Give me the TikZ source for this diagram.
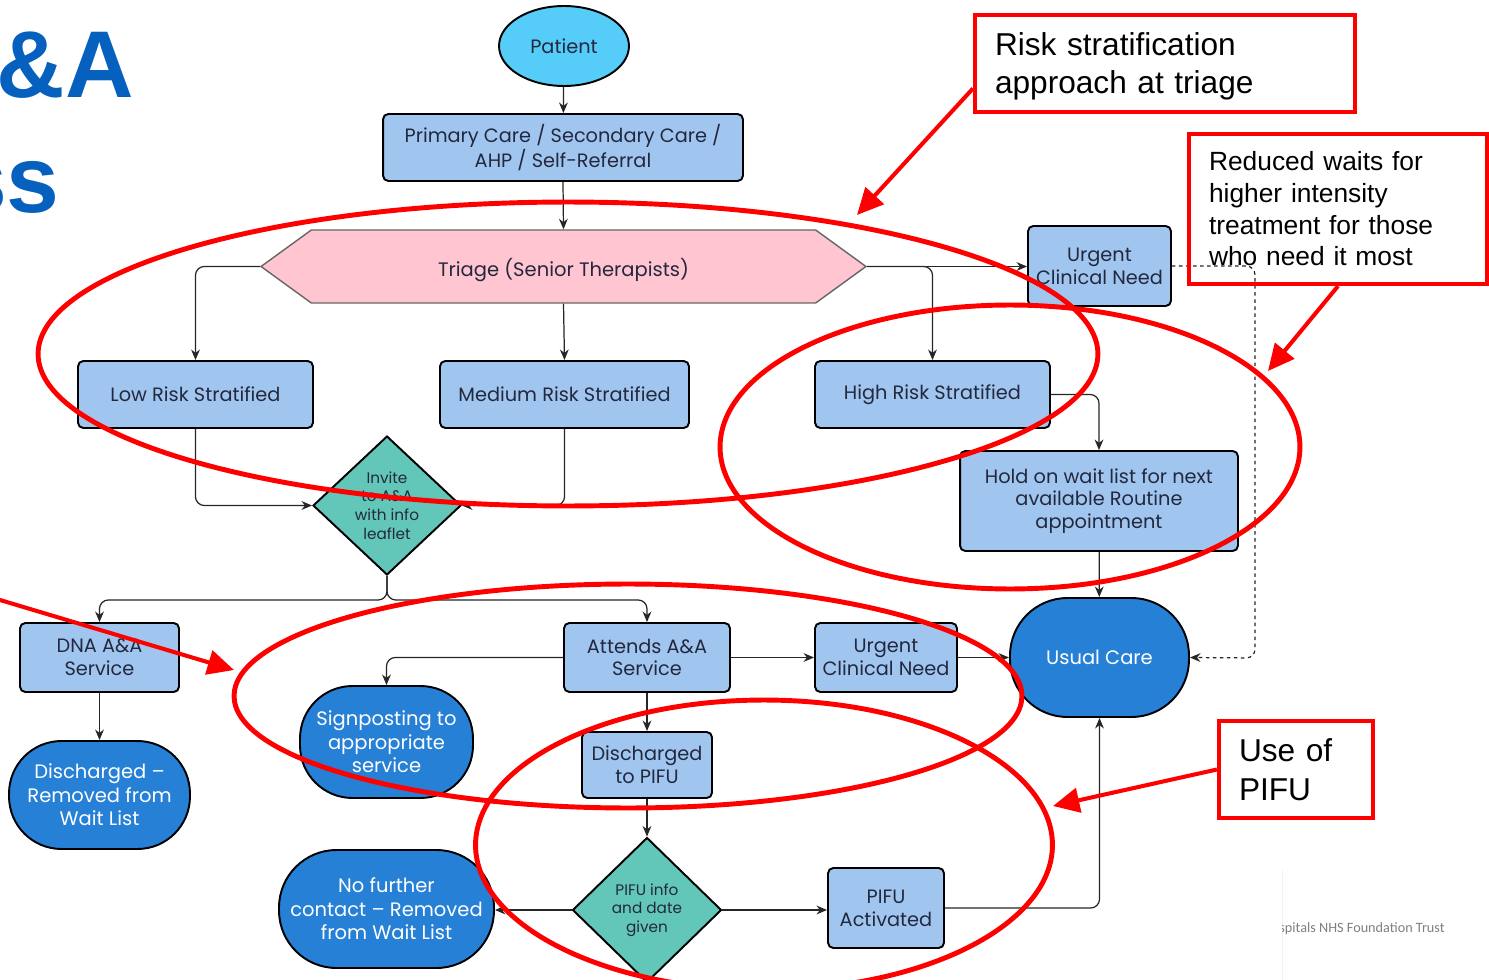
\documentclass[tikz,border=0pt]{standalone}
\usepackage{fontspec}
\setmainfont{Poppins}
\newfontfamily\notefont{Liberation Sans}
\newfontfamily\footfont{Carlito}
\usepackage{tikz}
\usetikzlibrary{arrows.meta,positioning,shapes.geometric,shapes.symbols}
\definecolor{boxblue}{RGB}{160,198,240}
\definecolor{termblue}{RGB}{38,128,214}
\definecolor{tealgreen}{RGB}{98,198,185}
\definecolor{patientcyan}{RGB}{86,204,248}
\definecolor{triagepink}{RGB}{255,197,208}
\definecolor{titleblue}{RGB}{5,96,190}
\definecolor{inktext}{RGB}{35,40,62}
\definecolor{alertred}{RGB}{255,0,0}

\begin{document}
\begin{tikzpicture}[x=0.02cm, y=-0.02cm,
          box/.style={draw=black, line width=1.1pt, rounded corners=3pt,
                      fill=boxblue, text=inktext, align=center, inner sep=2pt,
                      font=\fontsize{11}{13}\selectfont},
          term/.style={draw=black, line width=1.1pt, rounded corners=1.05cm,
                       fill=termblue, text=white, align=center, inner sep=2pt,
                       font=\fontsize{11.1}{13.4}\selectfont},
          decide/.style={diamond, draw=black, line width=1.1pt, fill=tealgreen,
                         text=inktext, align=center, inner sep=0pt,
                         font=\fontsize{8.7}{10.6}\selectfont},
          arr/.style={-{Stealth[length=6pt,width=5pt]}, line width=0.7pt,
                      black!85, rounded corners=5pt},
          dasharr/.style={arr, dash pattern=on 2pt off 2pt},
          note/.style={draw=alertred, line width=2.4pt, text=black,
                       font=\notefont, align=left, inner xsep=0.4cm, inner ysep=0pt},
          ring/.style={draw=alertred, line width=2.8pt},
          redarr/.style={-{Triangle[length=15pt,width=14pt]}, draw=alertred,
                         line width=2.3pt}
        ]
          \path[use as bounding box, fill=white] (0,0) rectangle (1489,980);
          % slide title, cut off at the left edge
          \node[anchor=base east, inner sep=0pt, text=titleblue,
                font=\notefont\bfseries\fontsize{54}{54}\selectfont] (title1) at (134,98) {\&A};
          \node[anchor=base east, inner sep=0pt, text=titleblue,
                font=\notefont\bfseries\fontsize{54}{54}\selectfont] (title2) at (60,213) {ss};
          % footer
          \draw[black!5, line width=0.5pt] (1282,870) -- (1282,980);
          \begin{scope}
            \clip (1282,880) rectangle (1489,980);
            \node[anchor=base west, inner sep=0pt, text=black!50,
                  font=\footfont\fontsize{8.1}{9}\selectfont] (trust) at (1279,932) {spitals NHS Foundation Trust};
          \end{scope}

          \node[ellipse, draw=black, line width=1.1pt, fill=patientcyan, text=inktext,
                minimum width=2.6cm, minimum height=1.6cm, inner sep=0pt,
                font=\fontsize{11}{13}\selectfont] (patient) at (564,46) {Patient};
          \node[box, minimum width=7.2cm, minimum height=1.34cm] (primary) at (563,147.5)
               {Primary Care / Secondary Care /\\AHP / Self-Referral};
          \node[signal, signal to=east and west, signal pointer angle=72,
                draw=black!60, line width=0.8pt, fill=triagepink, text=inktext,
                minimum width=12.1cm, minimum height=1.46cm, inner sep=0pt,
                text height=11.5pt, text depth=0pt,
                font=\fontsize{11.1}{13}\selectfont] (triage) at (563.5,266.5)
               {Triage (Senior Therapists)};
          \node[box, minimum width=2.86cm, minimum height=1.6cm] (urgA) at (1099.5,266) {Urgent\\Clinical Need};
          \node[box, minimum width=4.7cm, minimum height=1.34cm] (low) at (195.5,394.5) {Low Risk Stratified};
          \node[box, minimum width=4.98cm, minimum height=1.34cm] (med) at (564.5,394.5) {Medium Risk Stratified};
          \node[box, minimum width=4.7cm, minimum height=1.34cm] (high) at (932.5,394.5) {High Risk Stratified};
          \node[box, minimum width=5.56cm, minimum height=2cm] (hold) at (1099,501)
               {Hold on wait list for next\\available Routine\\appointment};
          \node[decide, minimum width=2.96cm, minimum height=2.78cm] (invite) at (387,505.5)
               {Invite\\to A\&A\\with info\\leaflet};
          \node[box, minimum width=3.18cm, minimum height=1.38cm] (dna) at (99.5,657.5) {DNA A\&A\\Service};
          \node[box, minimum width=3.32cm, minimum height=1.38cm] (attends) at (647,657.5) {Attends A\&A\\Service};
          \node[box, minimum width=2.84cm, minimum height=1.38cm] (urgB) at (886,657.5) {Urgent\\Clinical Need};
          \node[term, rounded corners=1.15cm, minimum width=3.58cm, minimum height=2.38cm] (usual) at (1099.5,657.5) {Usual Care};
          \node[term, minimum width=3.46cm, minimum height=2.24cm] (sign) at (386.5,742)
               {Signposting to\\appropriate\\service};
          \node[term, minimum width=3.62cm, minimum height=2.16cm] (disch) at (99.5,795)
               {Discharged –\\Removed from\\Wait List};
          \node[box, minimum width=2.6cm, minimum height=1.32cm] (dpifu) at (647,765) {Discharged\\to PIFU};
          \node[decide, minimum width=2.98cm, minimum height=2.9cm] (pifu) at (647,910)
               {PIFU info\\and date\\given};
          \node[box, minimum width=2.32cm, minimum height=1.6cm] (activated) at (886,908) {PIFU\\Activated};
          \node[term, rounded corners=1.15cm, minimum width=4.3cm, minimum height=2.36cm] (nofurther) at (386.5,909)
               {No further\\contact – Removed\\from Wait List};

          \coordinate (split) at (387,600);
          \coordinate (dashc) at (1255,658);

          \draw[arr] (patient) -- (primary);
          \draw[arr] (primary.south) -- (triage.north);
          \draw[arr] (triage.west) -| (low.north);
          \draw[arr] (triage.south) -- (med.north);
          \draw[arr] (triage.east) -- (triage.east -| urgA.west);
          \draw[arr] (triage.east) -| (high.north);
          \draw[arr] (high.east) -| (hold.north);
          \draw[arr] (hold) -- (usual);
          \draw[dasharr] (urgA.east) -| (dashc) -- (usual.east);
          \draw[arr] (low.south) |- (invite.west);
          \draw[arr] (med.south) |- (invite.east);
          \draw[arr] (invite.south) -- (split) -| (dna.north);
          \draw[arr] (invite.south) -- (split) -| (attends.north);
          \draw[arr] (dna) -- (disch);
          \draw[arr] (attends.west) -| (sign.north);
          \draw[arr] (attends) -- (urgB);
          \draw[arr] (urgB) -- (usual);
          \draw[arr] (attends) -- (dpifu);
          \draw[arr] (dpifu) -- (pifu);
          \draw[arr] (pifu.west) -- (pifu.west -| nofurther.east);
          \draw[arr] (pifu.east) -- (pifu.east -| activated.west);
          \draw[arr] (activated.east) -| (usual.south);

          % red call-outs on top
          \node[note, text width=6.8cm, minimum height=1.94cm,
                font=\notefont\fontsize{18}{21.5}\selectfont] (note1) at (1165,63.5)
               {\rule{0pt}{16pt}Risk stratification\\approach at triage};
          \node[note, text width=5.16cm, minimum height=3cm,
                font=\notefont\fontsize{15}{18}\selectfont] (note2) at (1338,209)
               {Reduced waits for\\higher intensity\\treatment for those\\who need it most};
          \node[note, text width=2.28cm, minimum height=1.94cm,
                font=\notefont\fontsize{18}{22}\selectfont] (note3) at (1296,769.5)
               {Use of\\PIFU};
          \draw[ring] (568,354) ellipse [x radius=10.6cm, y radius=3.04cm];
          \draw[ring] (1010,447) ellipse [x radius=5.8cm, y radius=2.84cm];
          \draw[ring] (628,696) ellipse [x radius=7.88cm, y radius=2.24cm];
          \draw[ring] (764,845) ellipse [x radius=5.77cm, y radius=2.9cm];
          \coordinate (tip1) at (857,215);
          \coordinate (tip2) at (1268,371);
          \coordinate (tail3) at (-10,597);
          \coordinate (tip3) at (234,670);
          \coordinate (tip4) at (1053,806);
          \draw[redarr] ([yshift=-0.5cm]note1.west) -- (tip1);
          \draw[redarr] (note2.south) -- (tip2);
          \draw[redarr] (tail3) -- (tip3);
          \draw[redarr] (note3.west) -- (tip4);
        \end{tikzpicture}
\end{document}
